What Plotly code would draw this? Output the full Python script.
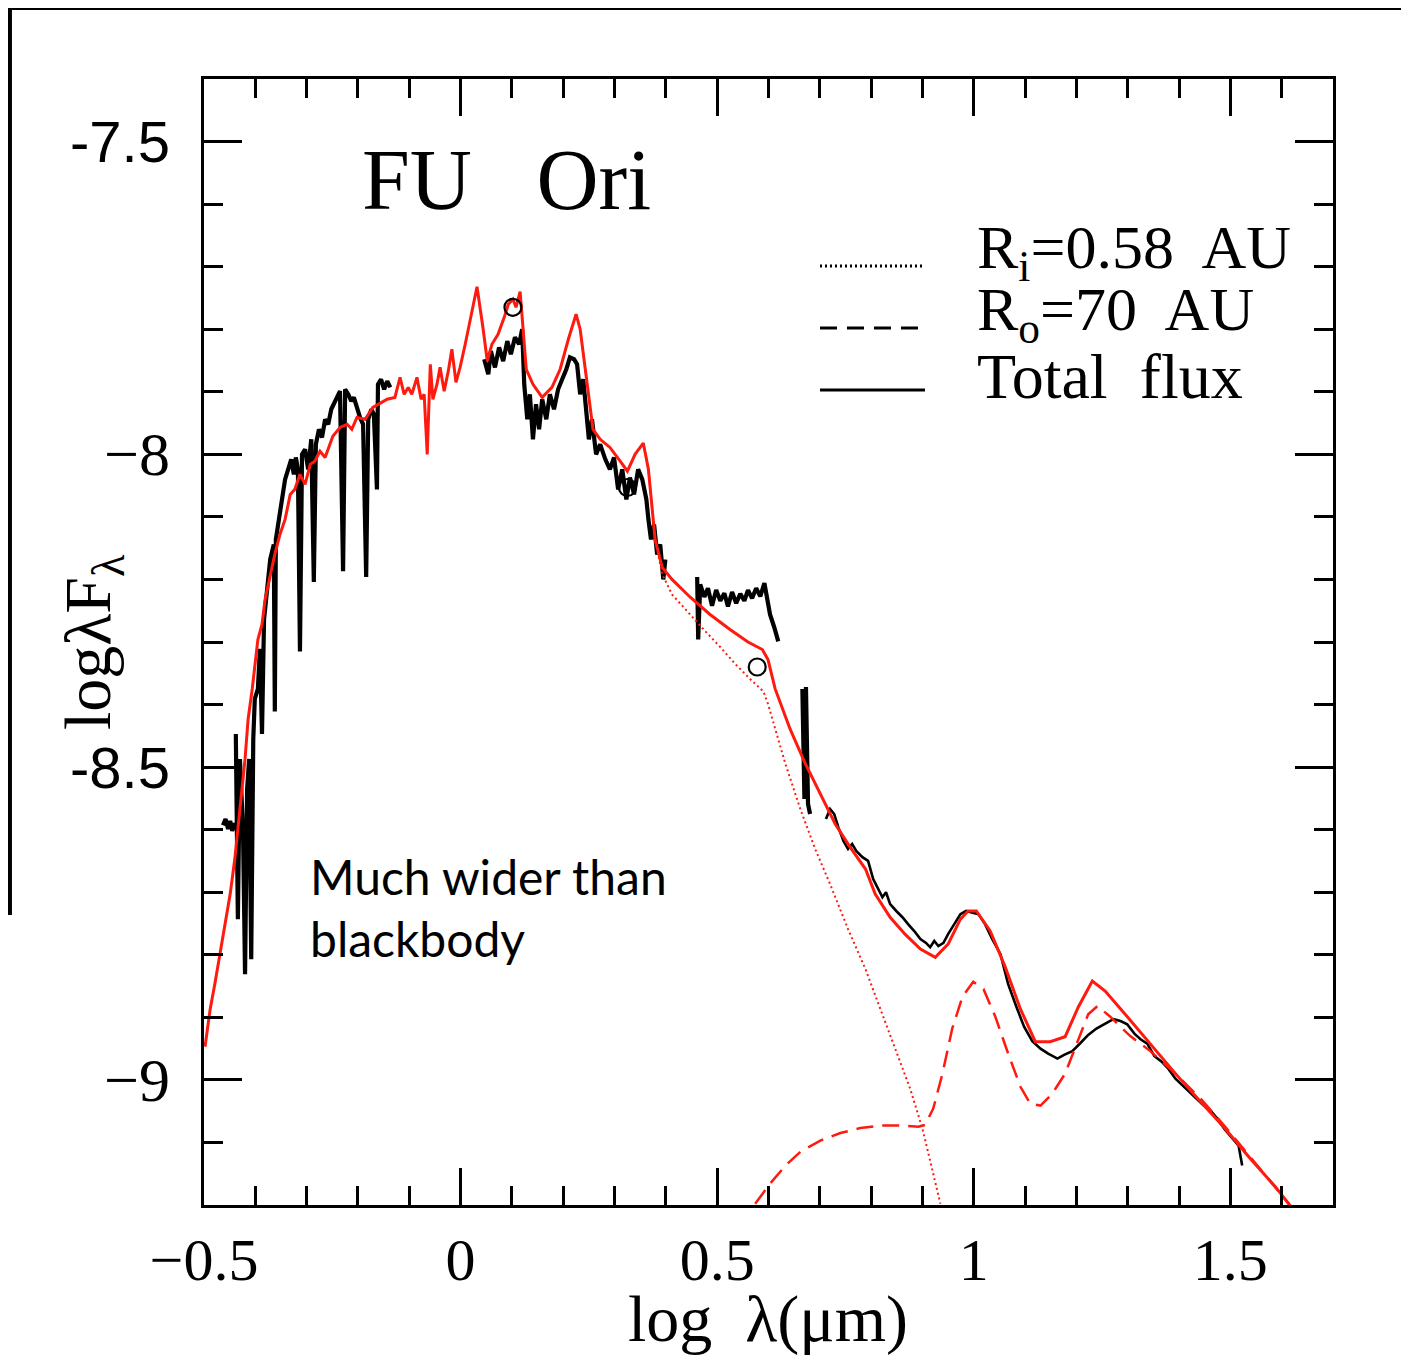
import plotly.graph_objects as go

# model: total flux (red solid)
total_x = [-0.498, -0.488, -0.479, -0.469, -0.459, -0.449, -0.440, -0.430, -0.420, -0.414,
           -0.406, -0.395, -0.387, -0.381, -0.371, -0.362, -0.352, -0.342, -0.332, -0.323,
           -0.313, -0.303, -0.293, -0.284, -0.274, -0.264, -0.249, -0.235, -0.221, -0.212,
           -0.202, -0.186, -0.171, -0.157, -0.143, -0.128, -0.118, -0.110, -0.102, -0.095,
           -0.085, -0.077, -0.071, -0.065, -0.059, -0.054, -0.046, -0.040, -0.032, -0.024,
           -0.017, -0.009, -0.001, 0.009, 0.019, 0.032, 0.044, 0.052, 0.061, 0.073,
           0.085, 0.093, 0.102, 0.108, 0.116, 0.128, 0.141, 0.159, 0.178, 0.194,
           0.210, 0.225, 0.233, 0.245, 0.258, 0.272, 0.291, 0.311, 0.325, 0.340,
           0.356, 0.366, 0.379, 0.393, 0.412, 0.447, 0.486, 0.525, 0.560, 0.588,
           0.599, 0.613, 0.642, 0.672, 0.701, 0.730, 0.759, 0.789, 0.808, 0.837,
           0.866, 0.896, 0.925, 0.950, 0.974, 0.989, 1.005, 1.032, 1.061, 1.091,
           1.120, 1.149, 1.178, 1.204, 1.231, 1.256, 1.295, 1.344, 1.393, 1.442,
           1.490, 1.539, 1.588, 1.621]
total_y = [-8.947, -8.887, -8.847, -8.799, -8.751, -8.703, -8.647, -8.567, -8.487, -8.423,
           -8.375, -8.296, -8.272, -8.232, -8.192, -8.160, -8.128, -8.104, -8.064, -8.056,
           -8.032, -8.048, -8.016, -8.011, -7.995, -8.005, -7.971, -7.957, -7.952, -7.960,
           -7.941, -7.944, -7.925, -7.919, -7.912, -7.909, -7.877, -7.904, -7.893, -7.904,
           -7.877, -7.912, -7.904, -8.000, -7.856, -7.912, -7.888, -7.861, -7.899, -7.867,
           -7.832, -7.885, -7.861, -7.824, -7.784, -7.732, -7.800, -7.851, -7.824, -7.808,
           -7.781, -7.760, -7.752, -7.765, -7.740, -7.864, -7.888, -7.909, -7.893, -7.864,
           -7.816, -7.776, -7.800, -7.880, -7.960, -7.976, -7.989, -8.011, -8.027, -8.000,
           -7.982, -8.024, -8.136, -8.181, -8.200, -8.228, -8.256, -8.280, -8.300, -8.312,
           -8.328, -8.375, -8.439, -8.495, -8.543, -8.591, -8.628, -8.663, -8.703, -8.740,
           -8.767, -8.791, -8.804, -8.783, -8.743, -8.730, -8.730, -8.762, -8.819, -8.887,
           -8.939, -8.939, -8.931, -8.883, -8.842, -8.858, -8.895, -8.942, -8.990, -9.035,
           -9.078, -9.126, -9.171, -9.206]

# model: outer disk, R_o = 70 AU (red dashed)
outer_x = [0.574, 0.603, 0.633, 0.662, 0.701, 0.740, 0.779, 0.818, 0.857, 0.892,
           0.905, 0.921, 0.939, 0.958, 0.978, 0.999, 1.019, 1.042, 1.067, 1.091,
           1.110, 1.130, 1.153, 1.178, 1.204, 1.223, 1.241, 1.266, 1.305, 1.344,
           1.393, 1.442, 1.490, 1.539, 1.588, 1.617]
outer_y = [-9.198, -9.166, -9.137, -9.115, -9.097, -9.085, -9.077, -9.073, -9.073, -9.075,
           -9.072, -9.046, -8.990, -8.918, -8.867, -8.843, -8.855, -8.899, -8.958, -9.011,
           -9.038, -9.041, -9.022, -8.990, -8.935, -8.895, -8.882, -8.899, -8.930, -8.954,
           -8.990, -9.030, -9.075, -9.123, -9.171, -9.201]

# model: inner disk, R_i = 0.58 AU (red dotted, visible where it leaves the total)
inner_x = [0.356, 0.366, 0.379, 0.393, 0.412, 0.447, 0.477, 0.506, 0.535, 0.564,
           0.590, 0.599, 0.613, 0.633, 0.662, 0.691, 0.720, 0.755, 0.789, 0.818,
           0.847, 0.876, 0.900, 0.919, 0.935]
inner_y = [-7.982, -8.024, -8.136, -8.192, -8.224, -8.256, -8.283, -8.308, -8.335, -8.359,
           -8.379, -8.399, -8.439, -8.495, -8.567, -8.631, -8.687, -8.759, -8.823, -8.887,
           -8.950, -9.014, -9.078, -9.142, -9.198]

# observed spectra (black), one list pair per segment
uv_x = [-0.463, -0.458, -0.453, -0.449, -0.445, -0.440, -0.436]
uv_y = [-8.593, -8.583, -8.599, -8.586, -8.602, -8.590, -8.596]

optical_x = [-0.438, -0.434, -0.430, -0.424, -0.420, -0.416, -0.412, -0.408, -0.404, -0.401,
             -0.395, -0.391, -0.387, -0.383, -0.379, -0.375, -0.371, -0.364, -0.362, -0.360,
             -0.354, -0.348, -0.342, -0.336, -0.330, -0.325, -0.321, -0.317, -0.313, -0.309,
             -0.303, -0.297, -0.291, -0.286, -0.282, -0.276, -0.270, -0.264, -0.258, -0.252,
             -0.247, -0.241, -0.235, -0.229, -0.225, -0.219, -0.213, -0.208, -0.202, -0.196,
             -0.190, -0.184, -0.180, -0.174, -0.169, -0.163, -0.161, -0.155, -0.149, -0.143,
             -0.137]
optical_y = [-8.447, -8.743, -8.487, -8.599, -8.831, -8.535, -8.487, -8.807, -8.455, -8.391,
             -8.375, -8.311, -8.447, -8.264, -8.232, -8.200, -8.168, -8.144, -8.411, -8.136,
             -8.104, -8.064, -8.040, -8.024, -8.008, -8.032, -8.005, -8.024, -8.315, -8.000,
             -7.992, -8.024, -7.976, -8.204, -7.984, -7.960, -7.973, -7.944, -7.952, -7.928,
             -7.920, -7.909, -7.899, -8.187, -7.896, -7.904, -7.915, -7.909, -7.928, -7.941,
             -7.952, -8.196, -7.944, -7.928, -7.936, -8.056, -7.888, -7.880, -7.896, -7.883,
             -7.893]

nir_x = [0.046, 0.054, 0.059, 0.067, 0.075, 0.083, 0.091, 0.098, 0.106, 0.114,
         0.120, 0.124, 0.130, 0.135, 0.141, 0.147, 0.153, 0.159, 0.167, 0.174,
         0.182, 0.190, 0.198, 0.206, 0.213, 0.221, 0.227, 0.233, 0.239, 0.245,
         0.250, 0.256, 0.264, 0.272, 0.282, 0.291, 0.299, 0.307, 0.315, 0.323,
         0.330, 0.338, 0.346, 0.354, 0.362, 0.366, 0.371, 0.377, 0.383, 0.389,
         0.395, 0.399]
nir_y = [-7.848, -7.872, -7.835, -7.861, -7.829, -7.851, -7.819, -7.840, -7.813, -7.824,
         -7.800, -7.888, -7.944, -7.904, -7.976, -7.920, -7.960, -7.912, -7.944, -7.904,
         -7.928, -7.896, -7.880, -7.864, -7.845, -7.848, -7.856, -7.904, -7.880, -7.928,
         -7.976, -7.944, -8.000, -7.984, -8.008, -8.024, -8.005, -8.056, -8.024, -8.072,
         -8.037, -8.064, -8.024, -8.040, -8.072, -8.104, -8.136, -8.112, -8.160, -8.144,
         -8.200, -8.168]

lband_x = [0.461, 0.463, 0.467, 0.475, 0.482, 0.490, 0.498, 0.506, 0.514, 0.521,
           0.529, 0.537, 0.545, 0.553, 0.560, 0.568, 0.576, 0.584, 0.592, 0.597,
           0.603, 0.611, 0.619]
lband_y = [-8.196, -8.296, -8.208, -8.228, -8.214, -8.242, -8.217, -8.234, -8.222, -8.243,
           -8.220, -8.238, -8.223, -8.234, -8.217, -8.230, -8.214, -8.227, -8.206, -8.232,
           -8.256, -8.276, -8.299]

mband_x = [0.666, 0.670, 0.673, 0.677, 0.681]
mband_y = [-8.375, -8.551, -8.372, -8.559, -8.575]

irs_x = [0.712, 0.720, 0.728, 0.736, 0.746, 0.755, 0.763, 0.771, 0.783, 0.794,
         0.804, 0.814, 0.822, 0.829, 0.837, 0.849, 0.861, 0.872, 0.884, 0.896,
         0.907, 0.915, 0.923, 0.931, 0.941, 0.950, 0.962, 0.974, 0.985, 0.997,
         1.009, 1.022, 1.036, 1.052, 1.067, 1.083, 1.098, 1.114, 1.130, 1.145,
         1.163, 1.176, 1.192, 1.208, 1.223, 1.239, 1.254, 1.272, 1.286, 1.299,
         1.313, 1.325, 1.338, 1.352, 1.365, 1.379, 1.393, 1.406, 1.420, 1.434,
         1.447, 1.461, 1.475, 1.488, 1.502, 1.516, 1.523]
irs_y = [-8.583, -8.567, -8.575, -8.596, -8.618, -8.631, -8.623, -8.634, -8.644, -8.650,
         -8.679, -8.695, -8.708, -8.700, -8.719, -8.730, -8.740, -8.751, -8.762, -8.775,
         -8.781, -8.788, -8.778, -8.786, -8.781, -8.767, -8.751, -8.735, -8.730, -8.732,
         -8.735, -8.751, -8.775, -8.799, -8.847, -8.883, -8.915, -8.938, -8.950, -8.958,
         -8.966, -8.960, -8.954, -8.941, -8.928, -8.918, -8.911, -8.903, -8.906, -8.911,
         -8.926, -8.935, -8.942, -8.962, -8.970, -8.982, -8.998, -9.008, -9.019, -9.030,
         -9.040, -9.049, -9.062, -9.078, -9.091, -9.105, -9.137]

# photometry (open circles)
phot_x = [0.102, 0.325, 0.578]
phot_y = [-7.765, -8.053, -8.340]

RED = "#ff1a10"
SERIF = "Liberation Serif"


def joined(*segs):
    # glue segments into one trace, broken by None
    xs, ys = [], []
    for sx, sy in segs:
        if xs:
            xs.append(None)
            ys.append(None)
        xs += sx
        ys += sy
    return xs, ys


fig = go.Figure()

# noisy ground-based spectra drawn heavier than the IRS spectrum
thick_x, thick_y = joined((uv_x, uv_y), (optical_x, optical_y), (nir_x, nir_y),
                          (lband_x, lband_y), (mband_x, mband_y))
fig.add_trace(go.Scatter(x=thick_x, y=thick_y, mode="lines",
                         line=dict(color="black", width=4.2)))
fig.add_trace(go.Scatter(x=irs_x, y=irs_y, mode="lines",
                         line=dict(color="black", width=2.6)))

fig.add_trace(go.Scatter(x=inner_x, y=inner_y, mode="lines",
                         line=dict(color=RED, width=2, dash="2px,3px")))
fig.add_trace(go.Scatter(x=outer_x, y=outer_y, mode="lines",
                         line=dict(color=RED, width=2.5, dash="17px,9px")))
fig.add_trace(go.Scatter(x=total_x, y=total_y, mode="lines",
                         line=dict(color=RED, width=3)))

fig.add_trace(go.Scatter(x=phot_x, y=phot_y, mode="markers",
                         marker=dict(symbol="circle-open", size=17,
                                     color="black", line=dict(width=2.2, color="black"))))

axis_common = dict(
    showline=True, linecolor="black", linewidth=2.5, mirror="allticks",
    ticks="inside", tickcolor="black", tickwidth=2.5,
    showgrid=False, zeroline=False,
)

fig.update_xaxes(
    range=[-0.5, 1.7], tick0=0, dtick=0.5, ticklen=37,
    tickfont=dict(family=SERIF, size=60, color="black"),
    ticklabelstandoff=0,
    minor=dict(dtick=0.1, tick0=0, ticks="inside", ticklen=19,
               tickwidth=2.5, tickcolor="black"),
    **axis_common,
)
fig.update_yaxes(
    range=[-9.2, -7.4], tick0=-9, dtick=0.5, ticklen=38, showticklabels=False,
    minor=dict(dtick=0.1, tick0=-9, ticks="inside", ticklen=19,
               tickwidth=2.5, tickcolor="black"),
    **axis_common,
)

annotations = [
    # y tick labels (mixed fonts, as in the slide)
    dict(text="-7.5", x=-0.028, y=-7.5, font=dict(family="Liberation Sans", size=58)),
    dict(text="−8", x=-0.028, y=-8.0, font=dict(family=SERIF, size=62)),
    dict(text="-8.5", x=-0.028, y=-8.5, font=dict(family="Liberation Sans", size=58)),
    dict(text="−9", x=-0.028, y=-9.0, font=dict(family=SERIF, size=62)),
]
for a in annotations:
    a.update(xref="paper", yref="y", xanchor="right", yanchor="middle", showarrow=False)
    a["font"]["color"] = "black"

annotations += [
    dict(text="FU   Ori", x=0.2675, y=0.9103, xanchor="center",
         font=dict(family=SERIF, size=86)),
    dict(text="R<sub>i</sub>=0.58  AU", x=0.6829, y=0.8464, xanchor="left",
         font=dict(family=SERIF, size=62)),
    dict(text="R<sub>o</sub>=70  AU", x=0.6829, y=0.7913, xanchor="left",
         font=dict(family=SERIF, size=62)),
    dict(text="Total  flux", x=0.6829, y=0.7362, xanchor="left",
         font=dict(family=SERIF, size=64)),
    dict(text="Much wider than<br>blackbody", x=0.0921, y=0.2638, xanchor="left",
         align="left", font=dict(family="Lato", size=48)),
    dict(text="log  λ(μm)", x=0.4996, y=-0.1010, xanchor="center",
         font=dict(family=SERIF, size=66)),
    dict(text="logλF<sub>λ</sub>", x=-0.0992, y=0.5, xanchor="center", textangle=-90,
         font=dict(family=SERIF, size=66)),
]
for a in annotations[4:]:
    a.update(xref="paper", yref="paper", yanchor="middle", showarrow=False)
    a["font"]["color"] = "black"

shapes = [
    # legend keys
    dict(type="line", x0=0.5456, x1=0.6386, y0=0.8339, y1=0.8339,
         line=dict(color="black", width=3, dash="2px,3px")),
    dict(type="line", x0=0.5456, x1=0.6386, y0=0.7789, y1=0.7789,
         line=dict(color="black", width=3, dash="17px,10px")),
    dict(type="line", x0=0.5456, x1=0.6386, y0=0.7238, y1=0.7238,
         line=dict(color="black", width=3)),
    # black slide borders of the screenshot
    dict(type="rect", x0=-0.2, x1=1.1, y0=1.0613, y1=1.09,
         fillcolor="black", line=dict(width=0)),
    dict(type="rect", x0=-0.2, x1=-0.1701, y0=0.2575, y1=1.09,
         fillcolor="black", line=dict(width=0)),
]
for s in shapes:
    s.update(xref="paper", yref="paper")

# the page adds an 8px body margin, so the figure is 8px smaller and shifted
fig.update_layout(
    width=1401, height=1359,
    margin=dict(l=196, r=76, t=71, b=162),
    paper_bgcolor="white", plot_bgcolor="white",
    showlegend=False, hovermode=False,
    annotations=annotations, shapes=shapes,
)

fig.write_html("out.html")
